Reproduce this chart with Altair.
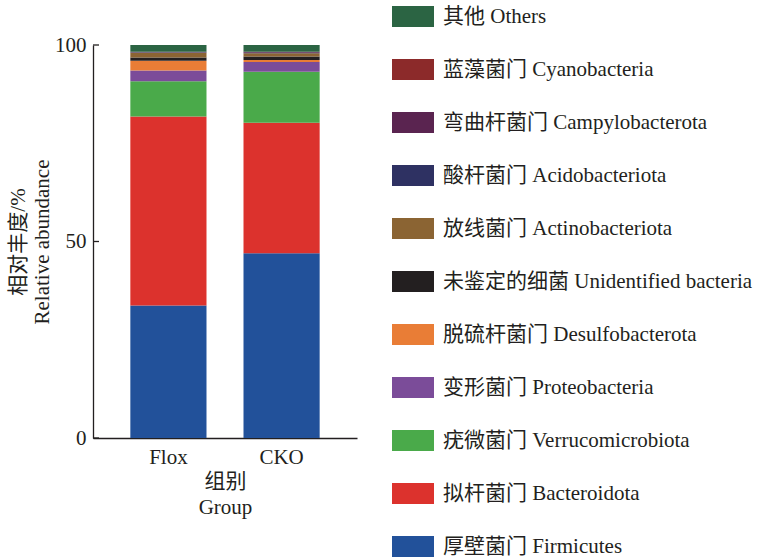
import altair as alt
import pandas as pd

# Groups on the x axis
groups = ["Flox", "CKO"]

# Phyla, listed from the bottom of each stack to the top
phyla_zh = ["厚壁菌门", "拟杆菌门", "疣微菌门", "变形菌门", "脱硫杆菌门",
            "未鉴定的细菌", "放线菌门", "酸杆菌门", "弯曲杆菌门", "蓝藻菌门", "其他"]
phyla_en = ["Firmicutes", "Bacteroidota", "Verrucomicrobiota", "Proteobacteria",
            "Desulfobacterota", "Unidentified bacteria", "Actinobacteriota",
            "Acidobacteriota", "Campylobacterota", "Cyanobacteria", "Others"]

# Relative abundance (%) per phylum
flox_pct = [33.7, 48.1, 9.0, 2.7, 2.5, 0.85, 1.2, 0.1, 0.1, 0.05, 1.7]
cko_pct = [47.0, 33.2, 13.0, 2.5, 0.5, 0.85, 0.85, 0.1, 0.2, 0.1, 1.7]

phyla_colors = ["#22519a", "#dc322d", "#4aaa4a", "#7b4c99", "#e97d36",
                "#231f20", "#8b6433", "#2e3162", "#5a2450", "#8c2a2a", "#2b6443"]

y_ticks = [0, 50, 100]

labels = [f"{z} {e}" for z, e in zip(phyla_zh, phyla_en)]
rows = []
for g, vals in zip(groups, [flox_pct, cko_pct]):
    for i, (lab, v) in enumerate(zip(labels, vals)):
        rows.append({"group": g, "phylum": lab, "pct": v, "stack": i})
df = pd.DataFrame(rows)

FONT = "Liberation Serif, Noto Sans CJK SC"
INK = "#231f20"

legend_order = labels[::-1]
legend_colors = phyla_colors[::-1]

y_axis = alt.Axis(
    title=["相对丰度/%", "Relative abundance"],
    values=y_ticks,
    ticks=False,
    tickSize=0,
    labelPadding=7,
    titlePadding=2,
    titleLineHeight=24,
)

bars = alt.Chart(df).mark_bar().encode(
    x=alt.X(
        "group:N",
        sort=groups,
        scale=alt.Scale(paddingInner=0.327, paddingOuter=0.33),
        axis=alt.Axis(
            title=["组别", "Group"],
            labelAngle=0,
            ticks=False,
            tickSize=0,
            labelPadding=8,
            titlePadding=3,
            titleLineHeight=26,
        ),
    ),
    y=alt.Y(
        "pct:Q",
        stack="zero",
        scale=alt.Scale(domain=[0, 100], nice=False),
        axis=y_axis,
    ),
    color=alt.Color(
        "phylum:N",
        scale=alt.Scale(domain=legend_order, range=legend_colors),
        legend=alt.Legend(
            title=None,
            orient="none",
            legendX=299,
            legendY=-39,
            padding=0,
            symbolType="M-1,-1H3V1H-1Z",
            symbolSize=441,
            symbolStrokeWidth=0,
            symbolOpacity=1,
            labelOffset=30,
            labelFont=FONT,
            labelFontSize=21,
            labelColor=INK,
            labelLimit=500,
            rowPadding=31,
        ),
    ),
    order=alt.Order("stack:Q", sort="ascending"),
)

# Inward-pointing tick marks on the y axis
ticks = alt.Chart(pd.DataFrame({"pct": y_ticks})).mark_rule(
    color=INK, strokeWidth=1.3
).encode(
    y=alt.Y("pct:Q", axis=y_axis),
    x=alt.value(0),
    x2=alt.value(6),
)

chart = alt.layer(bars, ticks).properties(
    width=264,
    height=393,
    autosize=alt.AutoSizeParams(type="none"),
    padding={"left": 93, "top": 45, "right": 400, "bottom": 120},
).configure_view(
    stroke=None
).configure_axis(
    grid=False,
    domainColor=INK,
    domainWidth=1.3,
    labelFont=FONT,
    titleFont=FONT,
    labelFontSize=21,
    titleFontSize=21,
    labelColor=INK,
    titleColor=INK,
    titleFontWeight="normal",
)

chart.save("out.html", embed_options={"renderer": "svg", "actions": False})
